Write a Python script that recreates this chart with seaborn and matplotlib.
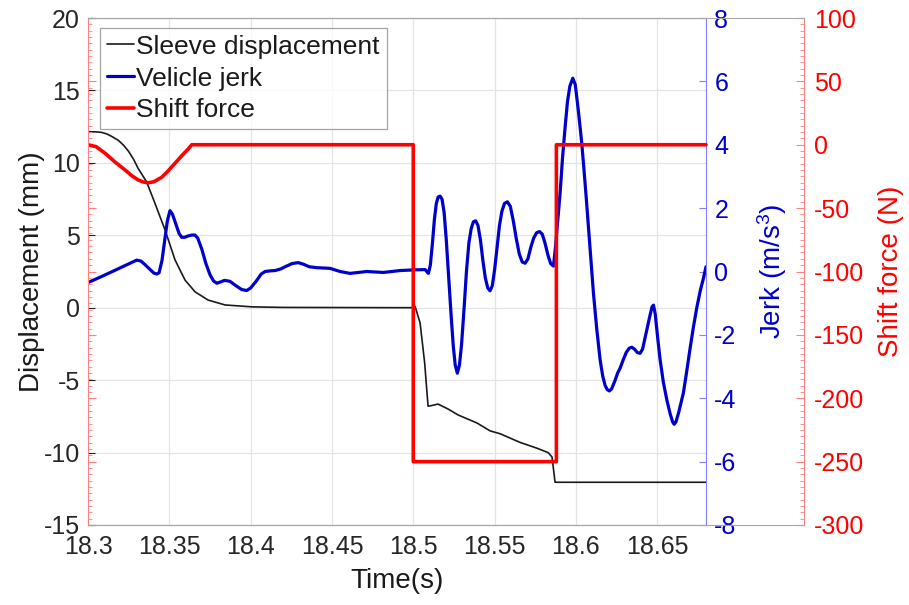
import numpy as np
import pandas as pd
import matplotlib
matplotlib.use("Agg")
import matplotlib.pyplot as plt
from matplotlib.lines import Line2D
from matplotlib.ticker import MultipleLocator
import seaborn as sns

# ---------------------------------------------------------------- data
# Sleeve displacement (mm)
t_disp = [18.300, 18.3050, 18.3085, 18.3115, 18.3145, 18.3187, 18.3220,
          18.3249, 18.3280, 18.3309, 18.3360, 18.3412, 18.3474, 18.3535,
          18.3597, 18.3658, 18.3738, 18.3843, 18.4007, 18.4200, 18.500,
          18.5011, 18.5042, 18.507, 18.5091, 18.5115, 18.5152, 18.5215,
          18.5275, 18.5392, 18.5472, 18.5534, 18.5657, 18.5761, 18.5829,
          18.5853, 18.5872, 18.680]
disp = [12.15, 12.14, 12.1, 12.0, 11.83, 11.55, 11.2,
        10.8, 10.25, 9.6, 8.7, 7.2, 5.36, 3.3,
        1.9, 1.1, 0.53, 0.19, 0.06, 0.02, 0.0,
        0.1, -1.05, -3.8, -6.8, -6.75, -6.65, -7.0,
        -7.4, -7.96, -8.5, -8.7, -9.3, -9.7, -10.0,
        -10.3, -12.05, -12.05]

# Vehicle jerk (m/s^3)
t_jerk = [18.300, 18.310, 18.320, 18.327, 18.330, 18.3325, 18.335, 18.338,
          18.3405, 18.3423, 18.3437, 18.3455, 18.3472, 18.3488, 18.3504,
          18.352, 18.354, 18.356, 18.3576, 18.3595, 18.3615, 18.3638,
          18.3658, 18.3675, 18.370, 18.3725, 18.375, 18.3772, 18.3792,
          18.3815, 18.384, 18.3873, 18.391, 18.3945, 18.3976, 18.400,
          18.4035, 18.4065, 18.4089, 18.412, 18.415, 18.4185, 18.4212,
          18.4255, 18.4293, 18.4325, 18.436, 18.4407, 18.4488, 18.455,
          18.4611, 18.466, 18.4714, 18.4816, 18.4919, 18.5001, 18.5073,
          18.5083, 18.5093, 18.5105, 18.5118, 18.5130, 18.5142, 18.5153,
          18.5165, 18.5177, 18.5190, 18.5203, 18.5218, 18.5233, 18.5246,
          18.5258, 18.5271, 18.5284, 18.5297, 18.5312, 18.5327, 18.5342,
          18.5356, 18.5370, 18.5384, 18.5398, 18.5413, 18.5428, 18.5443,
          18.5458, 18.5472, 18.5486, 18.5500, 18.5515, 18.5530, 18.5545,
          18.5561, 18.5579, 18.5597, 18.5615, 18.5633, 18.5652, 18.5670,
          18.5688, 18.5705, 18.5722, 18.5740, 18.5758, 18.5776, 18.5793,
          18.5810, 18.5828, 18.5845, 18.5862, 18.5875, 18.5889, 18.5903,
          18.5918, 18.5934, 18.5948, 18.5963, 18.5981, 18.5996, 18.6010,
          18.6023, 18.6036, 18.6050, 18.6064, 18.6077, 18.6092, 18.6108,
          18.6128, 18.6149, 18.6165, 18.6180, 18.6193, 18.6206, 18.6220,
          18.6240, 18.6257, 18.6272, 18.6290, 18.6310, 18.6328, 18.6344,
          18.6360, 18.6378, 18.6395, 18.6410, 18.6425, 18.6440, 18.6455,
          18.6468, 18.6477, 18.6488, 18.6503, 18.6518, 18.6538, 18.6559,
          18.6580, 18.6595, 18.6604, 18.6615, 18.6632, 18.6646, 18.6661,
          18.6680, 18.6700, 18.6723, 18.6745, 18.6765, 18.6785, 18.6800]
jerk = [-0.35, -0.12, 0.12, 0.29, 0.36, 0.33, 0.22, 0.07,
        -0.05, -0.08, -0.04, 0.35, 1.0, 1.6, 1.92,
        1.8, 1.5, 1.2, 1.08, 1.08, 1.12, 1.15,
        1.15, 1.05, 0.7, 0.25, -0.1, -0.3, -0.37,
        -0.33, -0.28, -0.31, -0.45, -0.57, -0.6, -0.52,
        -0.3, -0.08, 0.0, 0.02, 0.03, 0.08, 0.15,
        0.25, 0.28, 0.23, 0.15, 0.12, 0.1, 0.0,
        -0.06, -0.03, 0.0, -0.03, 0.03, 0.05, 0.06,
        0.0, -0.06, 0.2, 0.9, 1.65, 2.15, 2.35,
        2.38, 2.28, 1.85, 1.0, -0.2, -1.4, -2.35,
        -2.95, -3.21, -2.95, -2.3, -1.2, 0.0, 0.9,
        1.35, 1.57, 1.6, 1.45, 1.0, 0.35, -0.2,
        -0.52, -0.61, -0.45, 0.05, 0.75, 1.45, 1.9,
        2.15, 2.2, 2.05, 1.6, 1.05, 0.55, 0.3,
        0.26, 0.4, 0.75, 1.05, 1.22, 1.26, 1.18,
        0.9, 0.52, 0.25, 0.17, 0.8, 1.65, 2.48,
        3.6, 4.57, 5.35, 5.85, 6.1, 5.9, 5.3,
        4.7, 4.05, 3.2, 2.3, 1.41, 0.35, -0.69,
        -1.8, -2.79, -3.3, -3.6, -3.73, -3.77, -3.7,
        -3.45, -3.2, -3.05, -2.8, -2.55, -2.42, -2.39,
        -2.45, -2.56, -2.58, -2.45, -2.1, -1.75, -1.4,
        -1.12, -1.06, -1.35, -2.1, -2.79, -3.5, -4.05,
        -4.5, -4.75, -4.82, -4.75, -4.45, -4.15, -3.83,
        -3.2, -2.5, -1.74, -1.1, -0.6, -0.2, 0.15]

# Shift force (N)
t_force = [18.300, 18.305, 18.3105, 18.3165, 18.3228, 18.327, 18.3309,
           18.334, 18.3371, 18.3405, 18.3453, 18.349, 18.3535, 18.3585,
           18.3615, 18.3638, 18.500, 18.500, 18.588, 18.588, 18.680]
force = [0.0, -1.5, -6.7, -13.5, -19.9, -24.5, -27.8,
         -29.4, -30.0, -29.2, -25.7, -21.0, -14.6, -7.5,
         -3.5, 0.0, 0.0, -250.0, -250.0, 0.0, 0.0]

x_ticks = [18.3, 18.35, 18.4, 18.45, 18.5, 18.55, 18.6, 18.65]
x_tick_labels = ["18.3", "18.35", "18.4", "18.45", "18.5", "18.55", "18.6", "18.65"]
disp_ticks = [-15, -10, -5, 0, 5, 10, 15, 20]
jerk_ticks = [-8, -6, -4, -2, 0, 2, 4, 6, 8]
force_ticks = [-300, -250, -200, -150, -100, -50, 0, 50, 100]

legend_labels = ["Sleeve displacement", "Velicle jerk", "Shift force"]

# ---------------------------------------------------------------- style
sns.set_style("white")
plt.rcParams["font.family"] = ["Liberation Sans", "DejaVu Sans"]
plt.rcParams["mathtext.fontset"] = "custom"
plt.rcParams["mathtext.rm"] = "Liberation Sans"
plt.rcParams["mathtext.default"] = "regular"
plt.rcParams["axes.unicode_minus"] = False

C_BLACK = "#1a1a1a"
C_BLUE = "#0000cc"
C_RED = "#ff0000"
C_TEXT = "#262626"
C_GRID = "#e3e3e3"
C_FRAME = "#a6a6a6"

W, H = 909, 605
fig = plt.figure(figsize=(W / 100, H / 100), dpi=100)
fig.patch.set_facecolor("white")

left, right_main, right_red, top, bottom = 88, 706, 804, 18, 525
rect_main = [left / W, 1 - bottom / H, (right_main - left) / W, (bottom - top) / H]
rect_red = [left / W, 1 - bottom / H, (right_red - left) / W, (bottom - top) / H]

x_min, x_max = 18.3, 18.68

# main axes: displacement
ax = fig.add_axes(rect_main)
ax.set_facecolor("white")
sns.lineplot(x=t_disp, y=disp, ax=ax, estimator=None, sort=False,
             color=C_BLACK, lw=1.2)
ax.set_xlim(x_min, x_max)
ax.set_ylim(-15, 20)
ax.set_xticks(x_ticks)
ax.set_xticklabels(x_tick_labels)
ax.set_yticks(disp_ticks)
ax.grid(True, color=C_GRID, lw=0.9)
ax.tick_params(axis="both", direction="in", labelsize=18, colors=C_TEXT,
               length=5, width=0.8)
ax.tick_params(axis="y", pad=6)
ax.tick_params(axis="x", pad=7)
ax.set_xlabel("Time(s)", fontsize=20, color=C_BLACK, labelpad=7)
ax.set_ylabel("Displacement (mm)", fontsize=20, color=C_BLACK, labelpad=-1)
for s in ["top", "bottom"]:
    ax.spines[s].set_color(C_FRAME)
ax.spines["left"].set_visible(False)
ax.spines["right"].set_visible(False)

# twin axes: jerk
axj = ax.twinx()
sns.lineplot(x=t_jerk, y=jerk, ax=axj, estimator=None, sort=False,
             color=C_BLUE, lw=2.3)
axj.set_xlim(x_min, x_max)
axj.set_ylim(-8, 8)
axj.set_yticks(jerk_ticks)
axj.tick_params(axis="y", direction="in", labelsize=18, colors="#8080ff",
                labelcolor=C_BLUE, length=5, width=0.8, pad=6)
axj.set_ylabel(r"Jerk (m/s$^3$)", fontsize=20, color=C_BLUE, labelpad=13)
axj.spines["right"].set_color("#8080ff")
for s in ["top", "bottom", "left"]:
    axj.spines[s].set_visible(False)

# outer axes: shift force, ticks on both sides
axf = fig.add_axes(rect_red)
axf.patch.set_visible(False)
sns.lineplot(x=t_force, y=force, ax=axf, estimator=None, sort=False,
             color=C_RED, lw=2.6)
axf.set_xlim(x_min, x_min + (x_max - x_min) * (right_red - left) / (right_main - left))
axf.set_ylim(-300, 100)
axf.set_yticks(force_ticks)
axf.yaxis.set_minor_locator(MultipleLocator(5))
axf.set_xticks([])
axf.yaxis.set_ticks_position("both")
axf.yaxis.set_label_position("right")
axf.tick_params(axis="y", which="both", direction="in", colors="#ff8080",
                labelcolor=C_RED, labelleft=False, labelright=True,
                labelsize=18, pad=7)
axf.tick_params(axis="y", which="major", length=6, width=0.8)
axf.tick_params(axis="y", which="minor", length=3, width=0.6)
axf.set_ylabel("Shift force (N)", fontsize=20, color=C_RED, labelpad=10)
axf.set_xlabel("")
axf.spines["left"].set_color("#ff8080")
axf.spines["right"].set_color("#ff8080")
axf.spines["top"].set_color(C_FRAME)
axf.spines["bottom"].set_color(C_FRAME)

# legend
handles = [Line2D([], [], color=C_BLACK, lw=1.2),
           Line2D([], [], color=C_BLUE, lw=2.3),
           Line2D([], [], color=C_RED, lw=2.6)]
leg = axf.legend(handles, legend_labels, loc="upper left",
                 bbox_to_anchor=(100 / W, 1 - 28 / H),
                 bbox_transform=fig.transFigure, borderaxespad=0,
                 fontsize=19, frameon=True, fancybox=False,
                 handlelength=1.05, handletextpad=0.08, labelspacing=0.3,
                 borderpad=0.25)
leg.get_frame().set_edgecolor("#8c8c8c")
leg.get_frame().set_linewidth(0.9)
for txt in leg.get_texts():
    txt.set_color(C_BLACK)

fig.savefig("out.png", dpi=100, facecolor="white")
